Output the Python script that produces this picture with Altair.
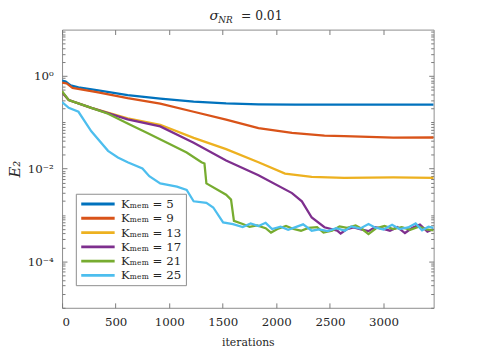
import altair as alt
import pandas as pd

# ---------------- data ----------------
K_LABELS = ["Kₘₑₘ = 5", "Kₘₑₘ = 9", "Kₘₑₘ = 13", "Kₘₑₘ = 17", "Kₘₑₘ = 21", "Kₘₑₘ = 25"]
COLORS = ["#0072BD", "#D95319", "#EDB120", "#7E2F8E", "#77AC30", "#4DBEEE"]

it_k5 = [0, 34, 80, 153, 337, 612, 916, 1228, 1531, 1833, 2174, 2600, 3000, 3468]
e2_k5 = [0.796, 0.76, 0.625, 0.567, 0.49, 0.385, 0.325, 0.28, 0.257, 0.245, 0.24, 0.24, 0.24, 0.24]

it_k9 = [0, 43, 98, 337, 612, 916, 1228, 1531, 1833, 2146, 2449, 2633, 3092, 3468]
e2_k9 = [0.722, 0.69, 0.553, 0.445, 0.333, 0.252, 0.169, 0.114, 0.075, 0.059, 0.052, 0.0502, 0.0467, 0.0471]

it_k13 = [0, 62, 273, 612, 916, 1228, 1531, 1833, 2081, 2330, 2633, 3092, 3468]
e2_k13 = [0.445, 0.302, 0.205, 0.122, 0.0886, 0.0463, 0.0264, 0.0138, 0.00785, 0.00665, 0.00634, 0.00647, 0.00634]

it_k17 = [0, 62, 273, 612, 916, 1228, 1531, 1833, 2146, 2238, 2330, 2449, 2568,
          2600, 2660, 2720, 2790, 2860, 2920, 2990, 3060, 3130, 3200, 3270, 3340, 3410, 3468]
e2_k17 = [0.445, 0.302, 0.205, 0.116, 0.0816, 0.0363, 0.015, 0.00723, 0.00298, 0.00198, 0.000886, 0.000546, 0.000462,
          4.0e-4, 5.0e-4, 5.4e-4, 4.9e-4, 4.5e-4, 5.5e-4, 5.1e-4, 4.6e-4, 5.5e-4, 4.1e-4, 5.3e-4, 6.2e-4, 4.4e-4, 5.0e-4]

it_k21 = [0, 62, 273, 429, 612, 796, 980, 1163, 1301, 1329, 1347, 1531, 1577, 1604, 1686,
          1750, 1820, 1900, 1950, 2010, 2090, 2160, 2230, 2300, 2380, 2440, 2520, 2590, 2660,
          2740, 2800, 2860, 2930, 3010, 3090, 3170, 3250, 3330, 3400, 3468]
e2_k21 = [0.467, 0.302, 0.205, 0.153, 0.0944, 0.059, 0.0363, 0.0224, 0.0138, 0.0129, 0.00483, 0.00274, 0.00215, 0.00075, 6.4e-4,
          5.6e-4, 6.0e-4, 5.2e-4, 4.2e-4, 5.0e-4, 5.8e-4, 5.0e-4, 4.6e-4, 5.3e-4, 5.5e-4, 4.2e-4, 4.6e-4, 5.7e-4, 5.3e-4,
          6.0e-4, 5.0e-4, 3.9e-4, 5.2e-4, 5.8e-4, 5.0e-4, 5.5e-4, 4.8e-4, 5.6e-4, 4.9e-4, 4.7e-4]

it_k25 = [0, 62, 153, 273, 429, 521, 612, 750, 814, 916, 1072, 1163, 1228, 1347, 1411, 1503, 1595, 1686,
          1760, 1833, 1900, 1960, 2040, 2110, 2180, 2250, 2330, 2400, 2480, 2560, 2640, 2700, 2780,
          2860, 2920, 3000, 3080, 3150, 3230, 3300, 3360, 3420, 3468]
e2_k25 = [0.274, 0.205, 0.169, 0.064, 0.0243, 0.0175, 0.0138, 0.0101, 0.00689, 0.00483, 0.0041, 0.00349, 0.00198, 0.00183, 0.00146, 0.000695, 6.4e-4, 5.5e-4,
          6.6e-4, 5.8e-4, 6.8e-4, 5.0e-4, 5.6e-4, 4.8e-4, 5.5e-4, 6.3e-4, 4.6e-4, 4.9e-4, 4.5e-4, 5.2e-4, 4.6e-4, 5.7e-4, 5.1e-4,
          6.4e-4, 5.4e-4, 4.9e-4, 6.2e-4, 5.0e-4, 5.4e-4, 6.6e-4, 4.7e-4, 5.6e-4, 5.3e-4]

X_TICKS = [0, 500, 1000, 1500, 2000, 2500, 3000]
Y_MAJOR = [1e-4, 1e-2, 1.0]
Y_MINOR = [round(k * 10.0 ** d, 8) for d in range(-5, 1) for k in range(1, 10)
           if not (k == 1 and d in (-4, -2, 0))]

TITLE_PARTS = ["σ", "NR", "= 0.01"]

ITERS = [it_k5, it_k9, it_k13, it_k17, it_k21, it_k25]
ERRS = [e2_k5, e2_k9, e2_k13, e2_k17, e2_k21, e2_k25]

rows = []
for lab, xs_, ys_ in zip(K_LABELS, ITERS, ERRS):
    for a, b in zip(xs_, ys_):
        rows.append({"iter": a, "E2": b, "K": lab})
df = pd.DataFrame(rows)
one = pd.DataFrame({"t": [0]})

# ---------------- styling ----------------
FONT = "DejaVu Serif"
TXT = "#262626"
TICK = "#7a7a7a"
W, H = 378, 283

xscale = alt.Scale(domain=[0, 3468], nice=False, zero=False)
yscale = alt.Scale(type="log", domain=[1e-5, 10], nice=False)


def tick_axis(orient, values, size, labels=False, title=None, **kw):
    return alt.Axis(orient=orient, values=values, offset=-size, tickSize=size,
                    tickColor=TICK, tickWidth=1, domain=False, grid=False,
                    labels=labels, title=title, **kw)


x_bottom = tick_axis("bottom", X_TICKS, 5, labels=True, labelPadding=9,
                     labelFont=FONT, labelFontSize=12, labelColor=TXT,
                     labelExpr="'' + datum.value",
                     title="iterations", titleFont=FONT, titleFontSize=11,
                     titleFontWeight="normal", titleColor=TXT, titlePadding=9)
y_left = tick_axis("left", Y_MAJOR, 5, labels=True, labelPadding=9,
                   labelFont=FONT, labelFontSize=12, labelColor=TXT,
                   labelExpr="'10' + (datum.value > 0.5 ? '⁰' : datum.value > 0.005 ? '⁻²' : '⁻⁴')",
                   title="E₂", titleFont=FONT, titleFontSize=15, titleFontStyle="italic",
                   titleFontWeight="normal", titleColor=TXT, titlePadding=5)

legend = alt.Legend(orient="none", legendX=14, legendY=167, title=None,
                    symbolType="M-1,0H5.8", symbolStrokeWidth=3, symbolSize=100,
                    labelFont=FONT, labelFontSize=12, labelColor=TXT, labelOffset=29,
                    fillColor="white", strokeColor="#8c8c8c", padding=4, rowPadding=1.5)

lines = alt.Chart(df).mark_line(strokeWidth=2.3, clip=True).encode(
    x=alt.X("iter:Q", scale=xscale, axis=x_bottom),
    y=alt.Y("E2:Q", scale=yscale, axis=y_left),
    color=alt.Color("K:N", scale=alt.Scale(domain=K_LABELS, range=COLORS), legend=legend),
)


def ghost(xaxis, yaxis):
    return alt.Chart(df).mark_point(opacity=0).encode(
        x=alt.X("iter:Q", scale=xscale, axis=xaxis),
        y=alt.Y("E2:Q", scale=yscale, axis=yaxis),
    )


g1 = ghost(tick_axis("top", X_TICKS, 5), tick_axis("right", Y_MAJOR, 5))
g2 = ghost(None, tick_axis("left", Y_MINOR, 3))
g3 = ghost(None, tick_axis("right", Y_MINOR, 3))

t1 = alt.Chart(one).mark_text(text=TITLE_PARTS[0], font=FONT, fontSize=14, fontStyle="italic", color=TXT,
                              align="left", baseline="alphabetic").encode(x=alt.value(150), y=alt.value(-10))
t2 = alt.Chart(one).mark_text(text=TITLE_PARTS[1], font=FONT, fontSize=9, fontStyle="italic", color=TXT,
                              align="left", baseline="alphabetic").encode(x=alt.value(159), y=alt.value(-7))
t3 = alt.Chart(one).mark_text(text=TITLE_PARTS[2], font=FONT, fontSize=12.5, color=TXT,
                              align="left", baseline="alphabetic").encode(x=alt.value(182), y=alt.value(-10))

chart = alt.layer(lines, g1, g2, g3, t1, t2, t3).resolve_scale(
    x="independent", y="independent"
).properties(
    width=W, height=H,
    autosize=alt.AutoSizeParams(type="none"),
    padding={"left": 55, "top": 19, "right": 38, "bottom": 43},
).configure_view(stroke="#8c8c8c", strokeWidth=1)

chart.save("out.html", embed_options={"renderer": "svg", "actions": False})
